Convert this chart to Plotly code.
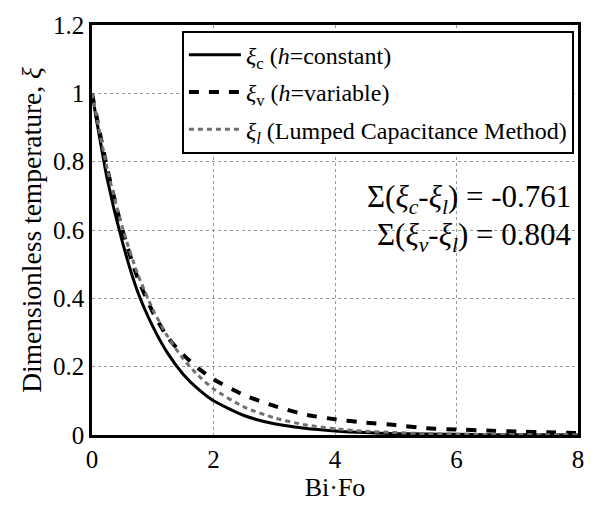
import plotly.graph_objects as go

bifo = [0, 0.25, 0.5, 0.75, 1.0, 1.25, 1.5, 1.75, 2.0, 2.5, 3.0, 3.5, 4.0, 4.5, 5.0, 5.5, 6.0, 6.5, 7.0, 7.5, 8.0]
xi_c = [1.0, 0.75, 0.565, 0.42, 0.318, 0.238, 0.178, 0.134, 0.10, 0.057, 0.033, 0.02, 0.012, 0.007, 0.004, 0.003, 0.002, 0.001, 0.001, 0.0005, 0.0003]
xi_v = [1.0, 0.78, 0.60, 0.46, 0.36, 0.285, 0.235, 0.195, 0.163, 0.117, 0.085, 0.06, 0.046, 0.036, 0.029, 0.02, 0.016, 0.013, 0.01, 0.008, 0.006]
xi_l = [1.0, 0.78, 0.607, 0.472, 0.368, 0.287, 0.223, 0.174, 0.135, 0.082, 0.05, 0.03, 0.018, 0.011, 0.007, 0.004, 0.0025, 0.0015, 0.001, 0.0006, 0.0003]

names = ["<i>ξ</i><sub>c</sub> (<i>h</i>=constant)",
         "<i>ξ</i><sub>v</sub> (<i>h</i>=variable)",
         "<i>ξ</i><sub><i>l</i></sub> (Lumped Capacitance Method)"]
notes = ["Σ(<i>ξ</i><sub><i>c</i></sub>-<i>ξ</i><sub><i>l</i></sub>) = -0.761",
         "Σ(<i>ξ</i><sub><i>v</i></sub>-<i>ξ</i><sub><i>l</i></sub>) = 0.804"]

FONT = "Times New Roman"

fig = go.Figure()
fig.add_trace(go.Scatter(x=bifo, y=xi_c, mode="lines", name=names[0], legendgroup="c",
                         line=dict(color="black", width=3, shape="spline", smoothing=0.6)))
fig.add_trace(go.Scatter(x=bifo, y=xi_v, mode="lines", name=names[1], legendgroup="v",
                         line=dict(color="black", width=4, dash="10px,10px", shape="spline", smoothing=0.6)))
fig.add_trace(go.Scatter(x=bifo, y=xi_l, mode="lines", name=names[2], legendgroup="l",
                         line=dict(color="#707070", width=3, dash="5px,4px", shape="spline", smoothing=0.6)))

for i, t in enumerate(notes):
    fig.add_annotation(xref="paper", yref="paper", x=0.99, y=[0.576, 0.482][i],
                       xanchor="right", yanchor="middle", text=t, showarrow=False,
                       font=dict(family=FONT, size=31, color="black"))

common = dict(showgrid=True, gridcolor="#9a9a9a", griddash="dot", gridwidth=1,
              showline=True, linecolor="black", linewidth=2.5, mirror=True,
              ticks="", zeroline=False)

fig.update_layout(
    width=596, height=512,
    margin=dict(l=92, r=13, t=15, b=77),
    paper_bgcolor="white", plot_bgcolor="white",
    font=dict(family=FONT, color="black", size=24),
    xaxis=dict(range=[0, 8], dtick=2,
               tickfont=dict(family=FONT, size=25, color="black"),
               title=dict(text="Bi·Fo", font=dict(family=FONT, size=26), standoff=6), **common),
    yaxis=dict(range=[0, 1.2], tickvals=[0, 0.2, 0.4, 0.6, 0.8, 1.0, 1.2],
               ticktext=["0", "0.2", "0.4", "0.6", "0.8", "1", "1.2"],
               tickfont=dict(family=FONT, size=25, color="black"),
               title=dict(text="Dimensionless temperature, <i>ξ</i>", font=dict(family=FONT, size=27.5), standoff=4), **common),
    legend=dict(x=0.185, y=0.986, xanchor="left", yanchor="top",
                bgcolor="white", bordercolor="black", borderwidth=2,
                font=dict(family=FONT, size=24, color="black"),
                itemwidth=52, tracegroupgap=3),
    showlegend=True,
)

fig.write_html("out.html")
